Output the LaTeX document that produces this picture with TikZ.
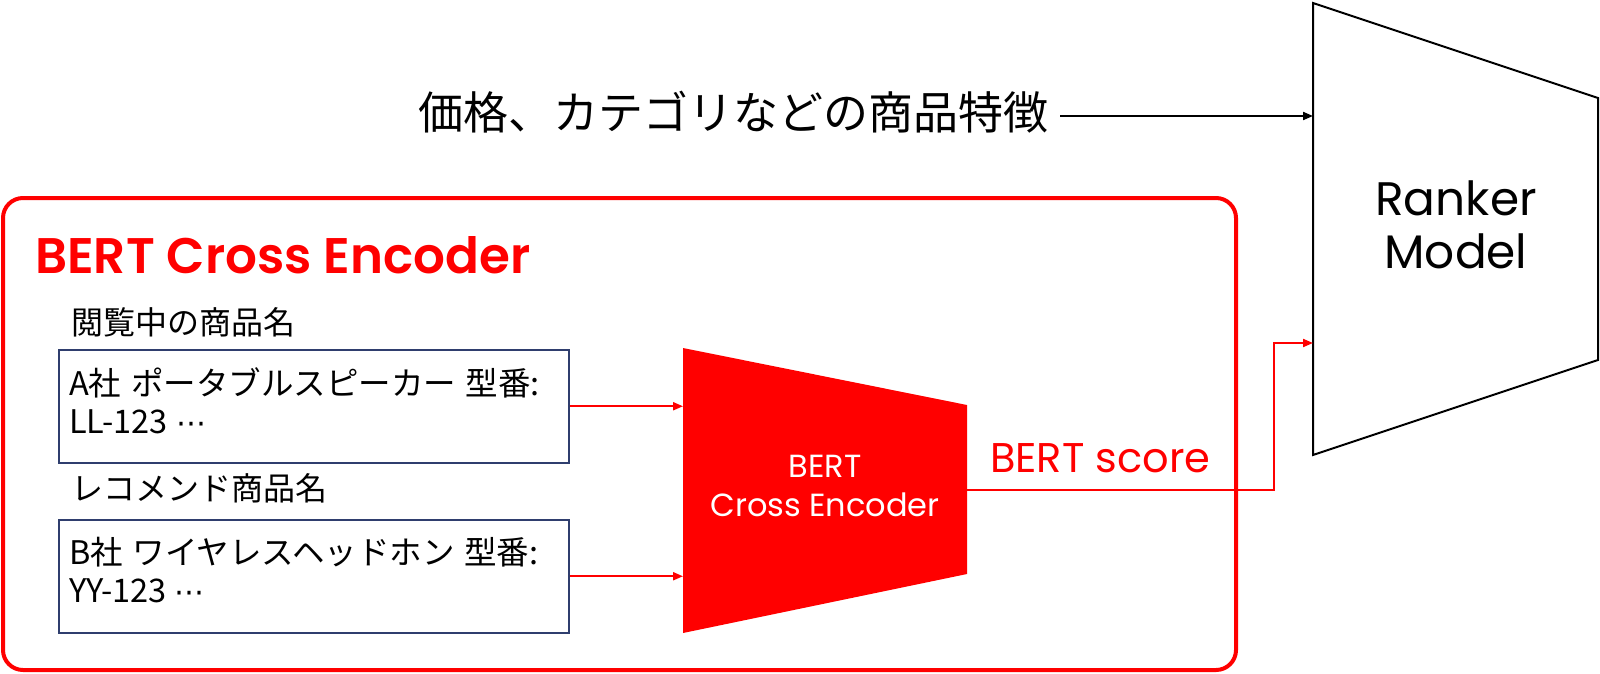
\documentclass[tikz,border=0pt]{standalone}
\usepackage{fontspec}
\setmainfont{Poppins}[BoldFont={Poppins SemiBold}]
\newfontfamily\jp{Noto Sans CJK JP}
\newfontfamily\dv{DejaVu Sans}
\usetikzlibrary{arrows.meta}

\definecolor{navy}{RGB}{47,62,110}
\newcommand{\middots}{{\dv\fontsize{30}{38}\selectfont ⋯}}

\begin{document}
\begin{tikzpicture}[x=1pt, y=-1pt,
    redarrow/.style={draw=red, line width=2pt, -{Triangle[length=10pt,width=8pt]}},
    namebox/.style={draw=navy, line width=1.5pt, minimum width=510pt, minimum height=113pt, anchor=north west, inner sep=0},
    boxtext/.style={font=\jp\fontsize{32.5}{38}\selectfont, align=left, inner sep=0, anchor=north west},
    label/.style={font=\jp\fontsize{32}{38}\selectfont, inner sep=0, anchor=base west}]
    \useasboundingbox (0,0) rectangle (1600,673);

    % Outer frame
    \draw[red, line width=4pt, rounded corners=20pt] (3,198) rectangle (1236,670);
    \node[red, font=\bfseries\fontsize{50}{56}\selectfont, inner sep=0, anchor=base west] (title) at (35,273) {BERT Cross Encoder};

    % Product names
    \node[label] (curlbl) at (71,334) {閲覧中の商品名};
    \node[namebox] (cur) at (58,349) {};
    \node[boxtext] (curtxt) at (69,367) {A社\hspace{0.3em}ポータブルスピーカー\hspace{0.3em}型番:\\LL-123\hspace{0.25em}\middots};

    \node[label] (reclbl) at (71,500) {レコメンド商品名};
    \node[namebox] (rec) at (58,519) {};
    \node[boxtext] (rectxt) at (69,537) {B社\hspace{0.3em}ワイヤレスヘッドホン\hspace{0.3em}型番:\\YY-123\hspace{0.25em}\middots};

    % Encoder
    \fill[red] (683,348) -- (967,405) -- (967,574) -- (683,633) -- cycle;
    \coordinate (encl) at (683,490);
    \coordinate (encr) at (967,490);
    \node[white, font=\fontsize{32}{39}\selectfont, align=center] (enc) at (825,486) {BERT\\Cross Encoder};

    \draw[redarrow] (cur.east) -- (cur.east -| encl);
    \draw[redarrow] (rec.east) -- (rec.east -| encl);

    % Ranker
    \draw[line width=2pt, line join=miter] (1313,3) -- (1598,98) -- (1598,360) -- (1313,455) -- cycle;
    \coordinate (rankl) at (1313,343);
    \node[font=\fontsize{47}{53}\selectfont, align=center] (rank) at (1456,225) {Ranker\\Model};

    % Score
    \node[red, font=\fontsize{41.5}{48}\selectfont, inner sep=0, anchor=base west] (score) at (990,472) {BERT score};
    \coordinate (bend) at (1274,490);
    \draw[redarrow] (encr) -- (bend) |- (rankl);

    % Product features
    \node[font=\jp\fontsize{45}{54}\selectfont, inner sep=0, anchor=base west] (feat) at (418,129) {価格、カテゴリなどの商品特徴};
    \draw[line width=2pt, -{Triangle[length=10pt,width=8pt]}] ([xshift=12pt,yshift=13pt]feat.base east) -- ([yshift=13pt]feat.base east -| rankl);
\end{tikzpicture}
\end{document}
